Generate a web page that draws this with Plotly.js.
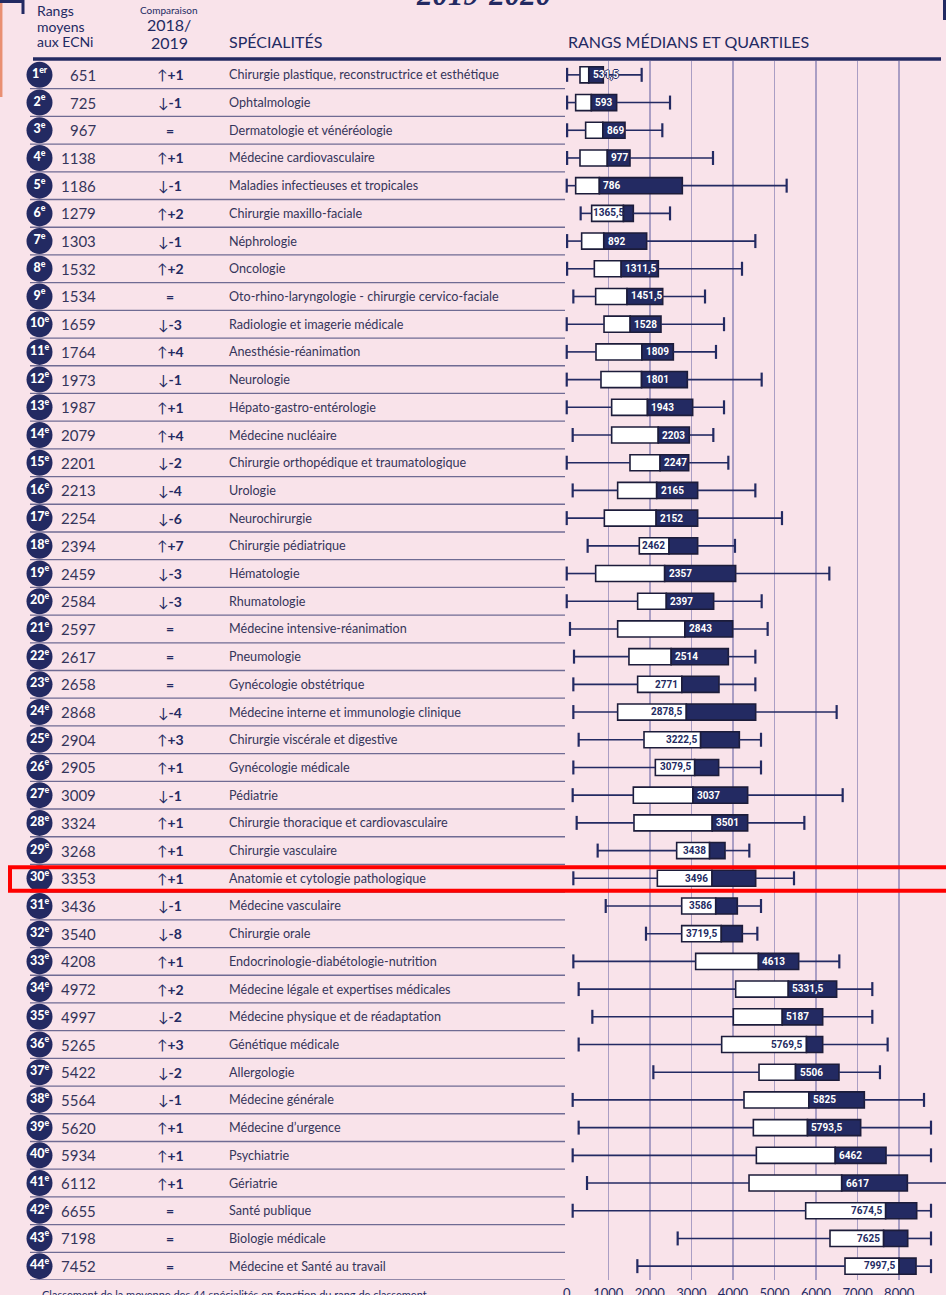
<!DOCTYPE html>
<html><head><meta charset="utf-8">
<script src="https://cdn.plot.ly/plotly-3.0.1.min.js"></script>
<style>html,body{margin:0;padding:0;background:#f9e3ea;}</style>
</head><body><div id="chart" style="width:946px;height:1295px;"></div>
<script>
const specialties = [
 "Chirurgie plastique, reconstructrice et esthétique","Ophtalmologie","Dermatologie et vénéréologie",
 "Médecine cardiovasculaire","Maladies infectieuses et tropicales","Chirurgie maxillo-faciale","Néphrologie",
 "Oncologie","Oto-rhino-laryngologie - chirurgie cervico-faciale","Radiologie et imagerie médicale",
 "Anesthésie-réanimation","Neurologie","Hépato-gastro-entérologie","Médecine nucléaire",
 "Chirurgie orthopédique et traumatologique","Urologie","Neurochirurgie","Chirurgie pédiatrique","Hématologie",
 "Rhumatologie","Médecine intensive-réanimation","Pneumologie","Gynécologie obstétrique",
 "Médecine interne et immunologie clinique","Chirurgie viscérale et digestive","Gynécologie médicale","Pédiatrie",
 "Chirurgie thoracique et cardiovasculaire","Chirurgie vasculaire","Anatomie et cytologie pathologique",
 "Médecine vasculaire","Chirurgie orale","Endocrinologie-diabétologie-nutrition",
 "Médecine légale et expertises médicales","Médecine physique et de réadaptation","Génétique médicale",
 "Allergologie","Médecine générale","Médecine d’urgence","Psychiatrie","Gériatrie","Santé publique",
 "Biologie médicale","Médecine et Santé au travail"];
const meanRanks = [651,725,967,1138,1186,1279,1303,1532,1534,1659,1764,1973,1987,2079,2201,2213,2254,2394,2459,2584,2597,2617,2658,2868,2904,2905,3009,3324,3268,3353,3436,3540,4208,4972,4997,5265,5422,5564,5620,5934,6112,6655,7198,7452];
const changes = [1,-1,0,1,-1,2,-1,2,0,-3,4,-1,1,4,-2,-4,-6,7,-3,-3,0,0,0,-4,3,1,-1,1,1,1,-1,-8,1,2,-2,3,-2,-1,1,1,1,0,0,0];
const medians = [531.5,593,869,977,786,1365.5,892,1311.5,1451.5,1528,1809,1801,1943,2203,2247,2165,2152,2462,2357,2397,2843,2514,2771,2878.5,3222.5,3079.5,3037,3501,3438,3496,3586,3719.5,4613,5331.5,5187,5769.5,5506,5825,5793.5,6462,6617,7674.5,7625,7997.5];
const q1 = [320,216,456,320,216,601,360,665,697,898,705,825,1082,1082,1523,1226,906,1747,697,1707,1226,1498,1707,1226,1860,2133,1603,1619,2646,2181,2767,2767,3103,4065,4009,3729,4627,4266,4491,4563,4387,5750,6335,6696];
const q3 = [881,1202,1403,1523,2782,1603,1924,2205,2310,2269,2566,2903,3031,2951,2935,3151,3151,3151,4065,3536,3993,3889,3664,4547,4154,3656,4354,4354,3809,4547,4105,4226,5581,6495,6159,6159,6551,7161,7073,7683,8197,8421,8205,8405];
const lowWhisker = [10,10,10,10,1,336,10,10,160,1,1,1,1,144,1,144,1,504,1,1,79,176,160,160,288,160,144,240,745,160,939,1908,160,288,617,288,2085,144,288,144,489,144,2670,1700];
const highWhisker = [1804,2486,2301,3520,5292,2486,4539,4218,3328,3785,3592,4691,3785,3528,3889,4539,5180,4049,6319,4691,4835,4539,4539,6495,4675,4675,6640,5718,4394,5469,4675,4587,6559,7353,7353,7722,7537,8597,8765,8765,9200,8765,8765,8765];
const xTicks = [0,1000,2000,3000,4000,5000,6000,7000,8000];

// style only: ranks whose median label sits inside the white (Q1-median) box
const labelInWhiteBox = new Set([6,18,23,24,25,26,29,30,31,32,36,42,43,44]);
// style only: ranks whose median label overflows the box
const labelOutlined = new Set([1]);
const labelOverflowRight = new Set([6]);

const W=946, H=1295, T=61, B=15;
const NAVY='#232a62', BG='#f9e3ea', TXT='#35355a', GRID='#aa9ec4';
const FONT='Lato, "Noto Sans", "DejaVu Sans", sans-serif';
const n = specialties.length;
const rows = specialties.map((_,i)=>i+1);
const px = x => x/W;
const py = y => (H-B-y)/(H-T-B);
const fmt = v => String(v).replace('.', ',');

// whiskers
const wx=[], wy=[];
rows.forEach((r,i)=>{ wx.push(lowWhisker[i], q1[i], null, q3[i], highWhisker[i], null); wy.push(r,r,null,r,r,null); });
const capX=[], capY=[];
rows.forEach((r,i)=>{ capX.push(lowWhisker[i], highWhisker[i]); capY.push(r,r); });

const traces = [
 {type:'scatter', mode:'lines', x:wx, y:wy, line:{color:NAVY,width:1.6}, hoverinfo:'skip', showlegend:false},
 {type:'scatter', mode:'markers', x:capX, y:capY, marker:{symbol:'line-ns', size:10, line:{color:NAVY,width:2.2}}, hoverinfo:'skip', showlegend:false},
 {type:'bar', orientation:'h', y:rows, base:q1, x:medians.map((m,i)=>m-q1[i]), width:0.58,
  marker:{color:'#ffffff', line:{color:'#1c1c3a', width:1.6}}, showlegend:false, hoverinfo:'skip'},
 {type:'bar', orientation:'h', y:rows, base:medians, x:q3.map((q,i)=>q-medians[i]), width:0.58,
  marker:{color:NAVY, line:{color:'#1c1c3a', width:1.6}}, showlegend:false, hoverinfo:'skip'},
 {type:'scatter', mode:'markers+text', xaxis:'x2', yaxis:'y', x:rows.map(()=>39.5), y:rows,
  marker:{size:26, color:NAVY}, text:rows.map(r=>r+'<sup>'+(r===1?'er':'e')+'</sup>'),
  textposition:'middle center', textfont:{color:'#ffffff', size:12.5, family:FONT, weight:900},
  hoverinfo:'skip', showlegend:false}
];

const ann = [];
rows.forEach((r,i)=>{
  const y=r;
  ann.push({xref:'paper', yref:'y', x:px(98), y, xanchor:'right', yanchor:'middle', showarrow:false,
    text:String(meanRanks[i]), font:{family:FONT, size:15, color:TXT}});
  const c = changes[i];
  const ct = c===0 ? '<b>=</b>' : (c>0 ? '↑<b>+'+c+'</b>' : '↓<b>-'+Math.abs(c)+'</b>');
  ann.push({xref:'paper', yref:'y', x:px(170), y, xanchor:'center', yanchor:'middle', showarrow:false,
    text:ct, font:{family:FONT, size:14, color:NAVY}});
  ann.push({xref:'paper', yref:'y', x:px(227), y, xanchor:'left', yanchor:'middle', showarrow:false,
    text:specialties[i], font:{family:FONT, size:12.6, color:TXT}});
  const inWhite = labelInWhiteBox.has(r);
  const f = {family:'Roboto, sans-serif', size:10, weight:'bold', color: inWhite?NAVY:'#ffffff'};
  if (labelOutlined.has(r)) f.shadow = '1px 0 0 #232a62, -1px 0 0 #232a62, 0 1px 0 #232a62, 0 -1px 0 #232a62';
  let xs = inWhite ? -2 : 2;
  if (labelOverflowRight.has(r)) xs = 3;
  ann.push({xref:'x', yref:'y', x:medians[i], y, xanchor: inWhite?'right':'left', xshift: xs,
    yanchor:'middle', showarrow:false, text:fmt(medians[i]), font:f});
});
// headers
const hdr = (x, y, text, size, anchor, extra) => ann.push(Object.assign({xref:'paper', yref:'paper', x:px(x), y:py(y),
   xanchor:anchor, yanchor:'middle', showarrow:false, text, font:{family:FONT, size, color:NAVY}}, extra||{}));
hdr(35, 11, 'Rangs', 14, 'left');
hdr(35, 26.5, 'moyens', 14, 'left');
hdr(35, 41.5, 'aux ECNi', 14, 'left');
hdr(169, 10, 'Comparaison', 10, 'center');
hdr(169, 24.5, '2018/', 16, 'center', {borderpad:0});
hdr(169, 42.5, '2019', 16, 'center', {borderpad:0});
hdr(227, 42, 'SPÉCIALITÉS', 16, 'left');
hdr(566, 42, 'RANGS MÉDIANS ET QUARTILES', 16, 'left');
ann.push({xref:'paper', yref:'paper', x:px(483), y:py(14), xanchor:'center', yanchor:'bottom', showarrow:false,
  text:'<b><i>2019-2020</i></b>', font:{family:'"Liberation Serif", serif', size:31, color:NAVY}});
ann.push({xref:'paper', yref:'paper', x:px(40), y:py(1294), xanchor:'left', yanchor:'middle', showarrow:false,
  text:'Classement de la moyenne des 44 spécialités en fonction du rang de classement', font:{family:FONT, size:11, color:NAVY}});

const shapes = [];
rows.forEach(r=>{
  shapes.push({type:'line', xref:'paper', yref:'y', x0:px(30), x1:px(565), y0:r+0.5, y1:r+0.5,
    line:{color:'#6f6b93', width:1.3}, layer:'below'});
});
shapes.push({type:'line', xref:'paper', yref:'paper', x0:px(33), x1:px(941), y0:py(59), y1:py(59), line:{color:NAVY, width:3.5}});
shapes.push({type:'line', xref:'paper', yref:'paper', x0:px(1.2), x1:px(1.2), y0:py(0), y1:py(97), line:{color:'#e98f72', width:2.5}});
shapes.push({type:'path', xref:'paper', yref:'paper', path:`M ${px(0)} ${py(1.5)} L ${px(23)} ${py(1.5)} L ${px(23)} ${py(14)}`, line:{color:NAVY, width:3}});
shapes.push({type:'line', xref:'paper', yref:'paper', x0:px(944.5), x1:px(944.5), y0:py(0), y1:py(20), line:{color:NAVY, width:3}});
shapes.push({type:'rect', xref:'paper', yref:'y', x0:px(10), x1:px(960), y0:29.6, y1:30.45,
  line:{color:'#ff0000', width:4}, layer:'above'});

const layout = {
  width:W, height:H, margin:{l:0, r:0, t:T, b:B},
  paper_bgcolor:BG, plot_bgcolor:'rgba(0,0,0,0)',
  barmode:'overlay', showlegend:false, font:{family:FONT, color:NAVY},
  xaxis:{domain:[560/W,1], range:[-161,9126], tickvals:xTicks, ticktext:xTicks.map(String),
    showgrid:true, gridcolor:GRID, gridwidth:1.5, zeroline:true, zerolinecolor:'rgba(0,0,0,0)',
    showline:false, ticks:'', ticklabelstandoff:4, tickfont:{size:13, color:NAVY, family:FONT}, fixedrange:true},
  xaxis2:{domain:[0,560/W], range:[0,560], anchor:'y', visible:false, fixedrange:true},
  yaxis:{range:[n+0.5,0.5], showgrid:false, zeroline:false, showticklabels:false, ticks:'', fixedrange:true},
  annotations:ann, shapes:shapes
};
Plotly.newPlot('chart', traces, layout, {displayModeBar:false, staticPlot:true});
</script></body></html>
